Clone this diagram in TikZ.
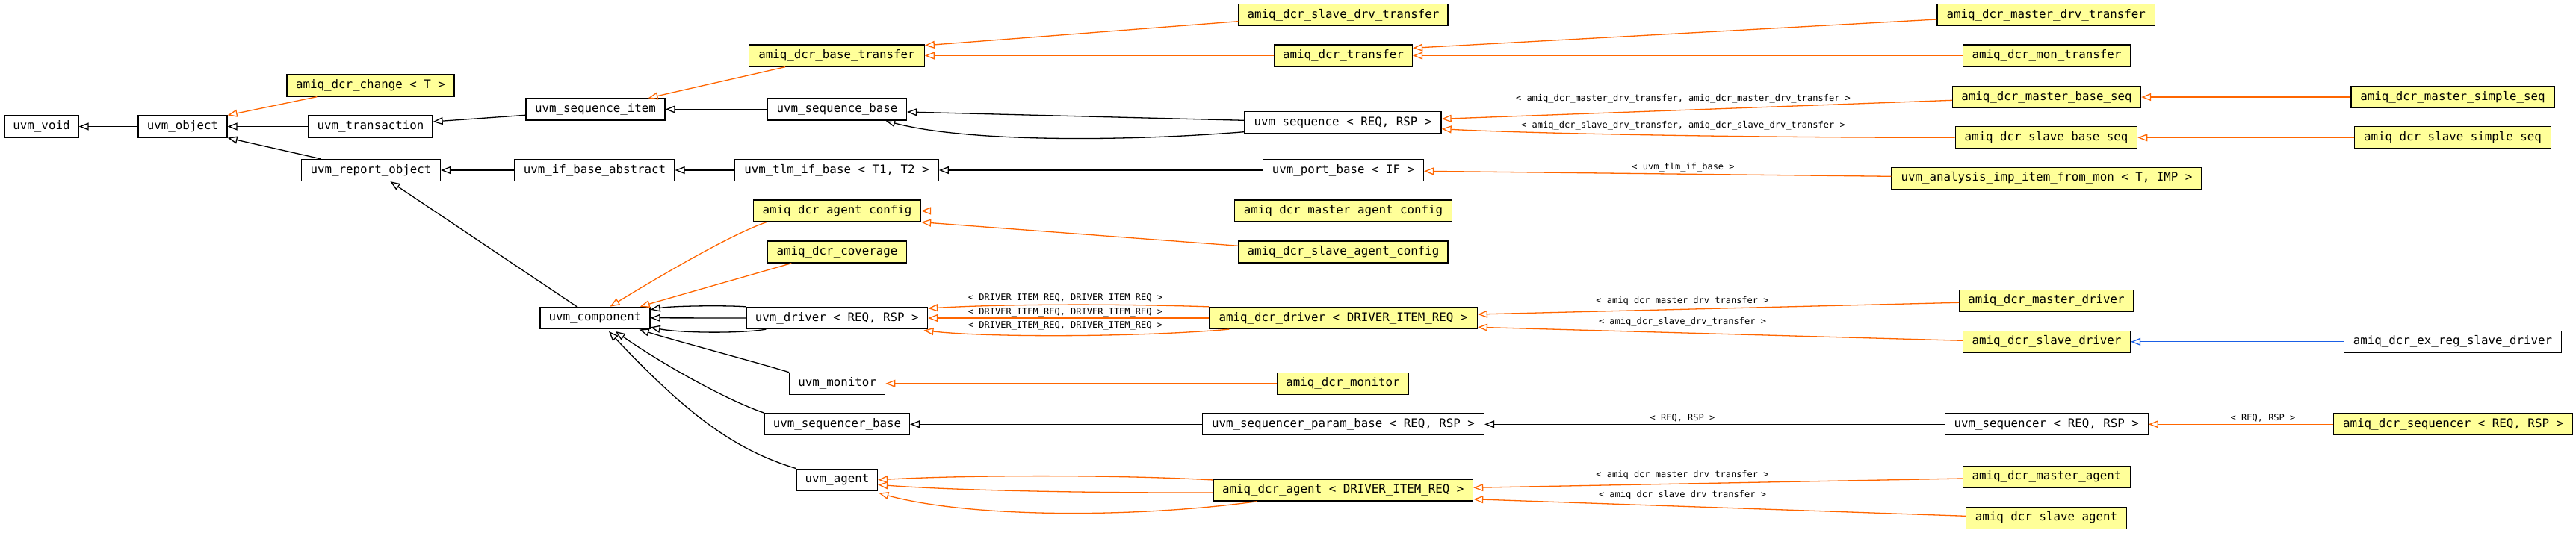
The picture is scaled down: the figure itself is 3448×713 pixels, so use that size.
\documentclass[tikz,border=0pt]{standalone}
\usepackage{fontspec}
\newfontfamily\dvmono{DejaVu Sans Mono}
\usetikzlibrary{arrows.meta,calc}
\definecolor{nodeyellow}{HTML}{FFFF99}
\definecolor{tplorange}{HTML}{FF6600}
\definecolor{bluelink}{HTML}{1A5FE6}
\newcommand\ndfont{\dvmono\fontsize{7.9}{9}\selectfont}
\newcommand\lbfont{\dvmono\fontsize{6}{7}\selectfont}
\tikzset{
  cls/.style={draw=black, line width=0.65pt, minimum height=14.5pt, inner sep=0pt, font=\ndfont, text=black},
  doc/.style={cls, fill=nodeyellow},
  ext/.style={cls, fill=white},
  inh/.style={line width=0.65pt, -{Triangle[open, length=6.5pt, width=5pt]}},
  pub/.style={inh, draw=black},
  tpl/.style={inh, draw=tplorange},
  blu/.style={inh, draw=bluelink},
  lbl/.style={font=\lbfont, inner sep=0pt, text=black}
}
\begin{document}
\begin{tikzpicture}[x=0.5pt, y=-0.5pt]
\useasboundingbox[fill=white] (0,0) rectangle (3448,713);
% column 1-4
\node[ext, minimum width=49.5pt] (void) at (55.5,169.5) {uvm\_void};
\node[ext, minimum width=59.5pt] (object) at (244.5,169.5) {uvm\_object};
\node[ext, minimum width=83pt] (transaction) at (496,169.5) {uvm\_transaction};
\node[doc, minimum width=112pt] (change) at (496,114.5) {amiq\_dcr\_change < T >};
\node[ext, minimum width=93pt] (reportobj) at (496.5,228) {uvm\_report\_object};
\node[ext, minimum width=93pt] (seqitem) at (797,146.5) {uvm\_sequence\_item};
\node[ext, minimum width=107pt] (ifbaseabs) at (796,228) {uvm\_if\_base\_abstract};
\node[ext, minimum width=73.5pt] (component) at (796.5,425.8) {uvm\_component};
% column 5
\node[doc, minimum width=117.25pt] (basetransfer) at (1120,74.5) {amiq\_dcr\_base\_transfer};
\node[ext, minimum width=93pt] (seqbase) at (1120.5,146.5) {uvm\_sequence\_base};
\node[ext, minimum width=136.25pt] (tlmifbase) at (1120,228) {uvm\_tlm\_if\_base < T1, T2 >};
\node[doc, minimum width=112pt] (agentconfig) at (1120.5,282.5) {amiq\_dcr\_agent\_config};
\node[doc, minimum width=93pt] (coverage) at (1120.5,337.5) {amiq\_dcr\_coverage};
\node[ext, minimum width=121.25pt] (uvmdriver) at (1120.25,426) {uvm\_driver < REQ, RSP >};
\node[ext, minimum width=64pt] (uvmmonitor) at (1120.7,513.8) {uvm\_monitor};
\node[ext, minimum width=97pt] (seqrbase) at (1120.5,568.3) {uvm\_sequencer\_base};
\node[ext, minimum width=54pt] (uvmagent) at (1120.5,642.8) {uvm\_agent};
% column 6
\node[doc, minimum width=140pt] (slavedrvtr) at (1798,20) {amiq\_dcr\_slave\_drv\_transfer};
\node[doc, minimum width=92.5pt] (transfer) at (1798,74.5) {amiq\_dcr\_transfer};
\node[ext, minimum width=131.5pt] (sequence) at (1797.5,164) {uvm\_sequence < REQ, RSP >};
\node[ext, minimum width=107.5pt] (portbase) at (1798,228) {uvm\_port\_base < IF >};
\node[doc, minimum width=145.5pt] (masteragentcfg) at (1798,282.5) {amiq\_dcr\_master\_agent\_config};
\node[doc, minimum width=140pt] (slaveagentcfg) at (1798,337.5) {amiq\_dcr\_slave\_agent\_config};
\node[doc, minimum width=179.35pt] (dcrdriver) at (1798,426) {amiq\_dcr\_driver < DRIVER\_ITEM\_REQ >};
\node[doc, minimum width=88pt] (dcrmonitor) at (1797.5,513.8) {amiq\_dcr\_monitor};
\node[ext, minimum width=188.5pt] (seqrparam) at (1798,568.3) {uvm\_sequencer\_param\_base < REQ, RSP >};
\node[doc, minimum width=173.8pt] (dcragent) at (1797.8,656.5) {amiq\_dcr\_agent < DRIVER\_ITEM\_REQ >};
% column 7
\node[doc, minimum width=145.75pt] (masterdrvtr) at (2738.7,20) {amiq\_dcr\_master\_drv\_transfer};
\node[doc, minimum width=112pt] (montransfer) at (2739.5,74.5) {amiq\_dcr\_mon\_transfer};
\node[doc, minimum width=126pt] (masterbaseseq) at (2739.5,130) {amiq\_dcr\_master\_base\_seq};
\node[doc, minimum width=121.7pt] (slavebaseseq) at (2739,184.3) {amiq\_dcr\_slave\_base\_seq};
\node[doc, minimum width=207.5pt] (analysisimp) at (2739.5,238.8) {uvm\_analysis\_imp\_item\_from\_mon < T, IMP >};
\node[doc, minimum width=116.3pt] (masterdriver) at (2739,402.8) {amiq\_dcr\_master\_driver};
\node[doc, minimum width=112pt] (slavedriver) at (2739.5,457.8) {amiq\_dcr\_slave\_driver};
\node[ext, minimum width=136pt] (uvmseqr) at (2739.2,568.3) {uvm\_sequencer < REQ, RSP >};
\node[doc, minimum width=112pt] (masteragent) at (2739.5,638.8) {amiq\_dcr\_master\_agent};
\node[doc, minimum width=107.5pt] (slaveagent) at (2739,693.8) {amiq\_dcr\_slave\_agent};
% column 8
\node[doc, minimum width=136pt] (mastersimpleseq) at (3283,130) {amiq\_dcr\_master\_simple\_seq};
\node[doc, minimum width=131.5pt] (slavesimpleseq) at (3283,184.3) {amiq\_dcr\_slave\_simple\_seq};
\node[ext, minimum width=145.5pt] (exregslave) at (3283,457.8) {amiq\_dcr\_ex\_reg\_slave\_driver};
\node[doc, minimum width=160pt] (dcrseqr) at (3283.6,568.3) {amiq\_dcr\_sequencer < REQ, RSP >};
% labels
\node[lbl] (lmseq) at (2253,132) {< amiq\_dcr\_master\_drv\_transfer, amiq\_dcr\_master\_drv\_transfer >};
\node[lbl] (lsseq) at (2253,168) {< amiq\_dcr\_slave\_drv\_transfer, amiq\_dcr\_slave\_drv\_transfer >};
\node[lbl] (ltlm) at (2253,224) {< uvm\_tlm\_if\_base >};
\node[lbl] (ldrv1) at (1426,399.7) {< DRIVER\_ITEM\_REQ, DRIVER\_ITEM\_REQ >};
\node[lbl] (ldrv2) at (1426,418.7) {< DRIVER\_ITEM\_REQ, DRIVER\_ITEM\_REQ >};
\node[lbl] (ldrv3) at (1426,436.7) {< DRIVER\_ITEM\_REQ, DRIVER\_ITEM\_REQ >};
\node[lbl] (lmdrv) at (2252,403) {< amiq\_dcr\_master\_drv\_transfer >};
\node[lbl] (lsdrv) at (2252,431.7) {< amiq\_dcr\_slave\_drv\_transfer >};
\node[lbl] (lseqr) at (2252,560.3) {< REQ, RSP >};
\node[lbl] (ldseqr) at (3029,560.3) {< REQ, RSP >};
\node[lbl] (lmag) at (2252,636) {< amiq\_dcr\_master\_drv\_transfer >};
\node[lbl] (lsag) at (2252,663) {< amiq\_dcr\_slave\_drv\_transfer >};
% black edges
\draw[pub] (object.west) -- (void.east);
\draw[pub] (transaction.west) -- (object.east);
\draw[pub] ($(reportobj.north)+(-67,0)$) -- (object.south east);
\draw[pub] ($(seqitem.west)+(0,7.8)$) -- ($(transaction.east)+(0,-6.5)$);
\draw[pub] (seqbase.west) -- (seqitem.east);
\draw[pub] ($(sequence.west)+(0,-2.7)$) -- ($(seqbase.east)+(0,3.5)$);
\draw[pub] ($(sequence.west)+(0,12.7)$) .. controls (1500,190) and (1290,190) .. ($(seqbase.south)+(64.8,0)$);
\draw[pub] (ifbaseabs.west) -- (reportobj.east);
\draw[pub] (tlmifbase.west) -- (ifbaseabs.east);
\draw[pub] (portbase.west) -- (tlmifbase.east);
\draw[pub] ($(component.north)+(-24.5,0)$) -- ($(reportobj.south)+(26,0)$);
\draw[pub] (uvmdriver.north west) .. controls (975,409) and (900,409.5) .. ($(component.east)+(0,-11)$);
\draw[pub] (uvmdriver.west) -- (component.east);
\draw[pub] ($(uvmdriver.south west)+(27,0)$) .. controls (990,447) and (910,446) .. ($(component.east)+(0,12.5)$);
\draw[pub] (uvmmonitor.north west) .. controls (1015,486) and (910,458) .. ($(component.south east)+(-15,0.5)$);
\draw[pub] (seqrbase.north west) .. controls (975,537) and (890,490) .. ($(component.south)+(27.3,3)$);
\draw[pub] (uvmagent.north west) .. controls (980,602) and (915,550) .. ($(component.south)+(18.5,3)$);
\draw[pub] (seqrparam.west) -- (seqrbase.east);
\draw[pub] (uvmseqr.west) -- (seqrparam.east);
% orange edges
\draw[tpl] ($(change.south west)+(41,0)$) -- (object.north east);
\draw[tpl] ($(basetransfer.south west)+(49,0)$) -- ($(seqitem.north east)+(-23,0)$);
\draw[tpl] ($(slavedrvtr.west)+(0,8.7)$) -- ($(basetransfer.north east)+(0,1.5)$);
\draw[tpl] (transfer.west) -- (basetransfer.east);
\draw[tpl] ($(masterdrvtr.west)+(0,6)$) -- ($(transfer.east)+(0,-10.2)$);
\draw[tpl] (montransfer.west) -- (transfer.east);
\draw[tpl] ($(masterbaseseq.west)+(0,4.3)$) -- ($(sequence.east)+(0,-4.7)$);
\draw[tpl] (slavebaseseq.west) .. controls (2350,184.5) and (2050,179) .. ($(sequence.east)+(0,8.7)$);
\draw[tpl] (mastersimpleseq.west) -- (masterbaseseq.east);
\draw[tpl] (slavesimpleseq.west) -- (slavebaseseq.east);
\draw[tpl] ($(analysisimp.west)+(0,-2.5)$) -- ($(portbase.east)+(0,1.3)$);
\draw[tpl] ($(agentconfig.south west)+(18,0)$) .. controls (975,315) and (870,378) .. ($(component.north)+(20,0)$);
\draw[tpl] ($(coverage.south west)+(32.5,0)$) -- ($(component.north east)+(-14,0)$);
\draw[tpl] (masteragentcfg.west) -- (agentconfig.east);
\draw[tpl] ($(slaveagentcfg.west)+(0,-8.2)$) -- (agentconfig.south east);
\draw[tpl] (dcrdriver.north west) .. controls (1500,407) and (1350,407) .. ($(uvmdriver.east)+(0,-13)$);
\draw[tpl] (dcrdriver.west) -- (uvmdriver.east);
\draw[tpl] ($(dcrdriver.south west)+(27.3,0)$) .. controls (1520,452) and (1320,452) .. ($(uvmdriver.south east)+(-5.7,1.4)$);
\draw[tpl] (dcrmonitor.west) -- (uvmmonitor.east);
\draw[tpl] ($(dcragent.north west)+(0,1.6)$) .. controls (1500,636) and (1300,636) .. (uvmagent.east);
\draw[tpl] ($(dcragent.west)+(0,3.5)$) .. controls (1400,660.5) and (1250,655) .. ($(uvmagent.east)+(0,6.5)$);
\draw[tpl] ($(dcragent.south west)+(59.6,0)$) .. controls (1520,694) and (1300,694) .. ($(uvmagent.south east)+(1.2,2.7)$);
\draw[tpl] ($(masterdriver.west)+(0,2.5)$) -- ($(dcrdriver.east)+(0,-5)$);
\draw[tpl] ($(slavedriver.west)+(0,-1.5)$) -- ($(dcrdriver.east)+(0,12.3)$);
\draw[blu] (exregslave.west) -- (slavedriver.east);
\draw[tpl] (dcrseqr.west) -- (uvmseqr.east);
\draw[tpl] ($(masteragent.west)+(0,2.2)$) -- ($(dcragent.east)+(0,-3.2)$);
\draw[tpl] ($(slaveagent.west)+(0,-2.5)$) -- ($(dcragent.east)+(0,12.2)$);
\end{tikzpicture}
\end{document}
